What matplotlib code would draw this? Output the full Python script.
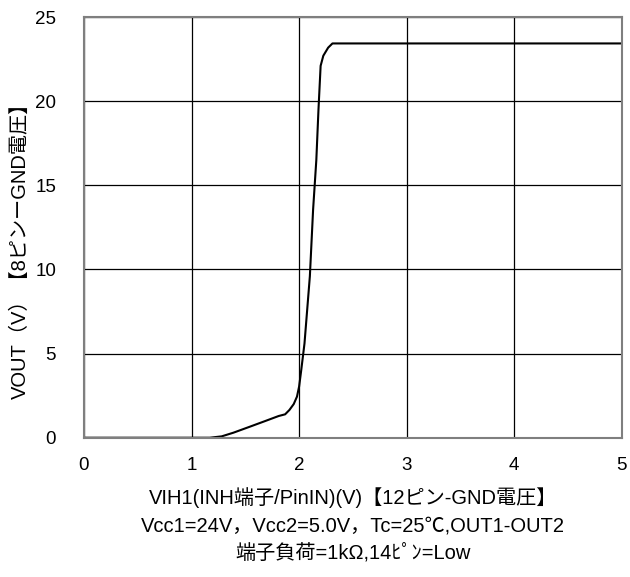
#!/usr/bin/env python3

import numpy as np
import matplotlib
matplotlib.use("Agg")
import matplotlib.pyplot as plt

plt.rcParams['font.family'] = ['Liberation Sans', 'Noto Sans CJK JP', 'DejaVu Sans']

# VIH1 input voltage (V) vs. output voltage VOUT (V)
vih = [0.0, 1.0, 1.17, 1.28, 1.39, 1.54, 1.68, 1.81, 1.87, 1.91, 1.95, 1.98,
       2.00, 2.02, 2.05, 2.10, 2.13, 2.16, 2.18, 2.20, 2.225, 2.27, 2.31, 5.0]
vout = [0.0, 0.0, 0.0, 0.08, 0.3, 0.65, 0.98, 1.29, 1.39, 1.65, 2.0, 2.44,
        3.04, 4.03, 5.6, 9.6, 13.55, 16.5, 19.5, 22.1, 22.7, 23.18, 23.43, 23.43]

xticks = [0, 1, 2, 3, 4, 5]
yticks = [0, 5, 10, 15, 20, 25]

xlabel = "VIH1(INH端子/PinIN)(V)【12ピン-GND電圧】"
cond1 = "Vcc1=24V，Vcc2=5.0V，Tc=25℃,OUT1-OUT2"
cond2 = "端子負荷=1kΩ,14ﾋﾟﾝ=Low"
ylabel = "VOUT（V）【8ピンーGND電圧】"


def plot():
    fig = plt.figure(figsize=(6.3, 5.77), dpi=100)
    ax = fig.add_axes([0.1333, 0.2414, 0.8537, 0.7291])

    ax.plot(vih, vout, color='k', lw=1.5)

    ax.set_xlim(0, 5)
    ax.set_ylim(0, 25)
    ax.set_xticks(xticks)
    ax.set_yticks(yticks)
    ax.tick_params(length=0, labelsize=13.5)
    ax.tick_params(axis='x', pad=14)
    ax.tick_params(axis='y', pad=20)
    ax.grid(True, color='k', lw=0.9)
    for s in ax.spines.values():
        s.set_color('#7f7f7f')
        s.set_linewidth(1.5)

    xc = (84 + 622) / 2 / 630
    fig.text(xc, 1 - 498 / 577, xlabel, ha='center', va='center', fontsize=14.5)
    fig.text(xc, 1 - 526 / 577, cond1, ha='center', va='center', fontsize=14.5)
    fig.text(xc, 1 - 553 / 577, cond2, ha='center', va='center', fontsize=14.5)
    fig.text(20 / 630, 1 - 246 / 577, ylabel, ha='center', va='center',
             rotation=90, fontsize=14.5)

    fig.savefig("out.png", dpi=100)


if __name__ == "__main__":
    plot()
